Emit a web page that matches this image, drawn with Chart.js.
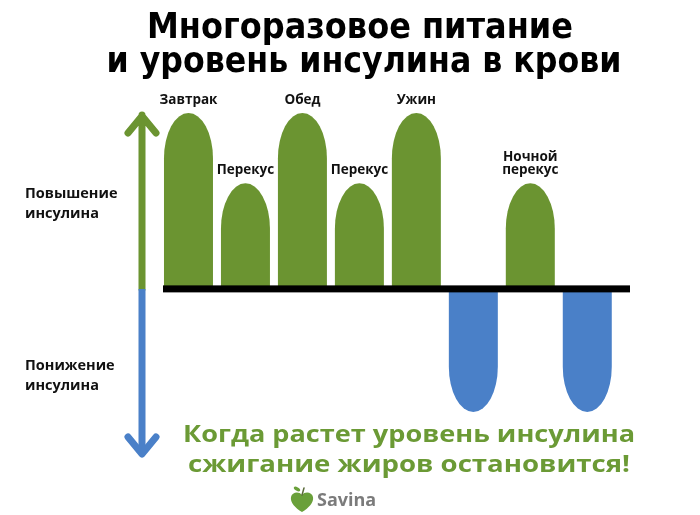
<!DOCTYPE html>
<html lang="ru">
<head>
<meta charset="utf-8">
<title>Многоразовое питание и уровень инсулина в крови</title>
<script src="https://cdn.jsdelivr.net/npm/chart.js@4/dist/chart.umd.min.js"></script>
<style>
  html, body { margin: 0; padding: 0; background: #fff; }
  #wrap { width: 700px; height: 515px; position: relative; }
  canvas { display: block; }
</style>
</head>
<body>
<div id="wrap"><canvas id="insulinChart" width="700" height="515"></canvas></div>
<script>
  // meals in order, empty slot = fasting period
  const meals = ['Завтрак', 'Перекус', 'Обед', 'Перекус', 'Ужин', '', 'Ночной\nперекус', ''];
  // insulin change per slot (up = rise, down = fall), arbitrary units
  const insulin = [10, 6, 10, 6, 10, -7, 6, -7];
  const titleLines = ['Многоразовое питание', 'и уровень инсулина в крови'];
  const riseLabel = ['Повышение', 'инсулина'];
  const fallLabel = ['Понижение', 'инсулина'];
  const footerLines = ['Когда растет уровень инсулина', 'сжигание жиров остановится!'];

  const GREEN = '#6b9431';
  const BLUE = '#4a80c8';
  const TEXT_GREEN = '#6b9a35';
  const FONT = '"Open Sans", "DejaVu Sans", sans-serif';

  function fitText(ctx, text, cx, y, targetW) {
    const w = ctx.measureText(text).width;
    const k = targetW / w;
    ctx.save();
    ctx.translate(cx, y);
    ctx.scale(k, 1);
    ctx.fillText(text, 0, 0);
    ctx.restore();
  }

  // bars with a bullet-shaped (elliptic) tip, drawn from the bar elements
  const bulletBars = {
    id: 'bulletBars',
    beforeDatasetDraw() { return false; },
    afterDatasetsDraw(chart) {
      const ctx = chart.ctx;
      const meta = chart.getDatasetMeta(0);
      const yScale = chart.scales.y;
      ctx.save();
      meta.data.forEach((bar, i) => {
        const p = bar.getProps(['x', 'y', 'base', 'width'], true);
        const rx = p.width / 2;
        const h = Math.abs(p.base - p.y);
        const ry = Math.min(rx * 1.85, h * 0.5);
        const left = p.x - rx, right = p.x + rx;
        const up = p.y < p.base;
        ctx.beginPath();
        ctx.moveTo(left, p.base);
        if (up) {
          const cy = p.y + ry;
          ctx.lineTo(left, cy);
          ctx.ellipse(p.x, cy, rx, ry, 0, Math.PI, 2 * Math.PI, false);
        } else {
          const cy = p.y - ry;
          ctx.lineTo(left, cy);
          ctx.ellipse(p.x, cy, rx, ry, 0, Math.PI, 0, true);
        }
        ctx.lineTo(right, p.base);
        ctx.closePath();
        ctx.fillStyle = insulin[i] >= 0 ? GREEN : BLUE;
        ctx.fill();

        // meal label above the tip
        if (meals[i]) {
          const lines = meals[i].split('\n');
          ctx.fillStyle = '#111';
          ctx.font = 'bold 13.5px ' + FONT;
          ctx.textAlign = 'center';
          ctx.textBaseline = 'alphabetic';
          lines.forEach((ln, j) => {
            ctx.fillText(ln, p.x, p.y - 9 - (lines.length - 1 - j) * 13.5);
          });
        }
      });

      // zero line
      const zy = yScale.getPixelForValue(0);
      ctx.fillStyle = '#000';
      ctx.fillRect(chart.chartArea.left + 3, zy - 3.5, chart.chartArea.right - chart.chartArea.left - 3, 7);
      ctx.restore();
    },
    afterDraw(chart) {
      const ctx = chart.ctx;
      const yScale = chart.scales.y;
      const zy = yScale.getPixelForValue(0);
      const top = chart.chartArea.top;
      const bottom = 458;
      const ax = 142;

      ctx.save();
      ctx.lineWidth = 7;
      ctx.lineCap = 'round';
      ctx.lineJoin = 'round';
      // up part
      ctx.strokeStyle = GREEN;
      ctx.beginPath();
      ctx.moveTo(ax, zy);
      ctx.lineTo(ax, top + 2);
      ctx.moveTo(ax - 14, top + 20);
      ctx.lineTo(ax, top + 3);
      ctx.lineTo(ax + 14, top + 20);
      ctx.stroke();
      // down part
      ctx.strokeStyle = BLUE;
      ctx.lineCap = 'butt';
      ctx.beginPath();
      ctx.moveTo(ax, zy);
      ctx.lineTo(ax, bottom - 4);
      ctx.stroke();
      ctx.lineCap = 'round';
      ctx.beginPath();
      ctx.moveTo(ax - 14, bottom - 21);
      ctx.lineTo(ax, bottom - 4);
      ctx.lineTo(ax + 14, bottom - 21);
      ctx.stroke();

      // side labels
      ctx.fillStyle = '#111';
      ctx.font = 'bold 14.5px ' + FONT;
      ctx.textAlign = 'left';
      ctx.textBaseline = 'alphabetic';
      ctx.fillText(riseLabel[0], 25, 198);
      ctx.fillText(riseLabel[1], 25, 218);
      ctx.fillText(fallLabel[0], 25, 370);
      ctx.fillText(fallLabel[1], 25, 390);

      // title
      ctx.fillStyle = '#000';
      ctx.textAlign = 'center';
      ctx.font = 'bold 36px "DejaVu Sans Condensed", "DejaVu Sans", sans-serif';
      fitText(ctx, titleLines[0], 360, 38, 426);
      fitText(ctx, titleLines[1], 364, 72, 515);

      // footer
      ctx.fillStyle = TEXT_GREEN;
      ctx.font = 'bold 24px ' + FONT;
      fitText(ctx, footerLines[0], 409, 442, 452);
      fitText(ctx, footerLines[1], 409, 472, 442);

      // logo
      const lx = 302, ly = 501;
      ctx.fillStyle = '#6aa03a';
      ctx.beginPath();
      ctx.moveTo(lx, ly + 11);
      ctx.bezierCurveTo(lx - 7, ly + 7, lx - 12, ly + 1, lx - 11, ly - 4);
      ctx.bezierCurveTo(lx - 10, ly - 9, lx - 3, ly - 10, lx, ly - 6);
      ctx.bezierCurveTo(lx + 3, ly - 10, lx + 10, ly - 9, lx + 11, ly - 4);
      ctx.bezierCurveTo(lx + 12, ly + 1, lx + 7, ly + 7, lx, ly + 11);
      ctx.fill();
      ctx.beginPath();
      ctx.ellipse(lx - 5, ly - 12, 3.5, 1.8, 0.5, 0, Math.PI * 2);
      ctx.fill();
      ctx.strokeStyle = '#5a6a3a';
      ctx.lineWidth = 1.5;
      ctx.beginPath();
      ctx.moveTo(lx, ly - 6);
      ctx.lineTo(lx + 2, ly - 13);
      ctx.stroke();
      ctx.fillStyle = '#7b7b7b';
      ctx.font = 'bold 18px ' + FONT;
      ctx.textAlign = 'left';
      ctx.fillText('Savina', 317, 506);
      ctx.restore();
    }
  };

  const ctx = document.getElementById('insulinChart').getContext('2d');
  new Chart(ctx, {
    type: 'bar',
    data: {
      datasets: [{
        label: 'Инсулин',
        data: insulin.map((v, i) => ({ x: i, y: v })),
        backgroundColor: insulin.map(v => v >= 0 ? GREEN : BLUE),
        barPercentage: 0.86,
        categoryPercentage: 1
      }]
    },
    options: {
      responsive: false,
      animation: false,
      layout: { padding: { left: 160, right: 70, top: 113, bottom: 103 } },
      plugins: { legend: { display: false }, tooltip: { enabled: false } },
      scales: {
        x: {
          type: 'linear',
          display: false,
          offset: false,
          min: -0.5,
          max: 7.75,
          afterBuildTicks: s => { s.ticks = meals.map((_, i) => ({ value: i })); }
        },
        y: {
          display: false,
          min: -7,
          max: 10
        }
      }
    },
    plugins: [bulletBars]
  });
</script>
</body>
</html>
